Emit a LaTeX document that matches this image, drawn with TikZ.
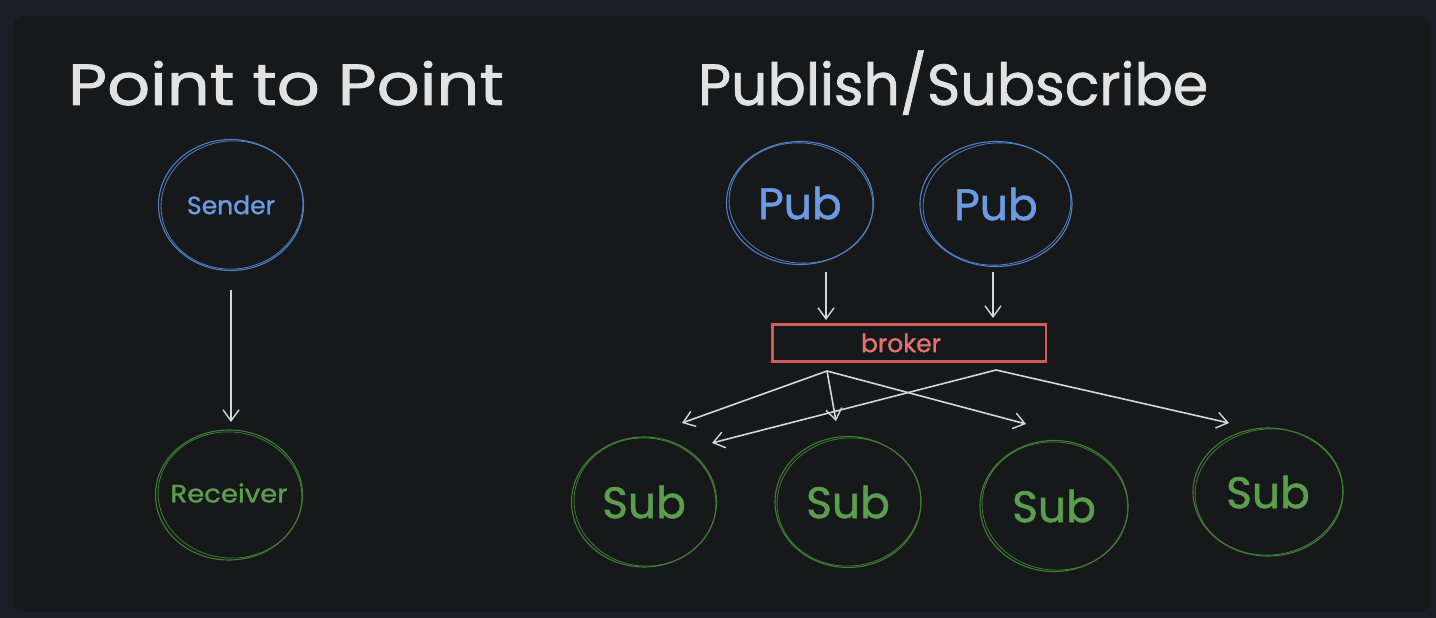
\documentclass[tikz,border=0pt]{standalone}
\usepackage{fontspec}
\setmainfont{Poppins}[FakeBold=1.2]
\usetikzlibrary{shapes.geometric,arrows.meta}
\definecolor{outerbg}{HTML}{1B1E27}
\definecolor{panelbg}{HTML}{17181A}
\definecolor{bstroke}{HTML}{4F7FC4}
\definecolor{btext}{HTML}{6C9BE3}
\definecolor{gstroke}{HTML}{3E7D36}
\definecolor{gtext}{HTML}{5B9E4D}
\definecolor{rstroke}{HTML}{D05C5C}
\definecolor{rtext}{HTML}{E27272}
\definecolor{wline}{HTML}{D6D6D6}
\definecolor{ttext}{HTML}{E2E2E2}
\tikzset{
  bubble/.style={ellipse, draw, line width=1.1pt, inner sep=0pt},
  bluebubble/.style={bubble, draw=bstroke, text=btext},
  greenbubble/.style={bubble, draw=gstroke, text=gtext},
  title/.style={text=ttext, font=\fontsize{58}{60}\selectfont, anchor=base west, inner sep=0pt},
  smalllbl/.style={font=\fontsize{25}{28}\selectfont},
  biglbl/.style={font=\fontsize{44}{48}\selectfont},
  arr/.style={draw=wline, line width=1.6pt, -{Straight Barb[length=11pt,width=16pt,line width=1.4pt]}},
}
\begin{document}
\begin{tikzpicture}[x=1pt,y=-1pt]
\useasboundingbox (0,0) rectangle (1436,618);
\fill[outerbg] (0,0) rectangle (1436,618);
\fill[panelbg, rounded corners=11pt] (13,16) rectangle (1430,612);

% titles
\node[title] (t1) at (68,105) {\scalebox{1.16}[1]{Point to Point}};
\node[title] (t2) at (698,105) {\scalebox{0.98}[1]{Publish/Subscribe}};

% point to point
\node[bluebubble, smalllbl, minimum width=145pt, minimum height=131pt] (sender) at (231,205) {Sender};
\node[greenbubble, minimum width=147pt, minimum height=130pt] (receiver) at (229,495) {};
\node[text=gtext, smalllbl, inner sep=0pt] (receiverlbl) at ([yshift=2pt]receiver.center) {\scalebox{1.1}[1]{Receiver}};

% pub/sub
\node[bluebubble, biglbl, minimum width=147pt, minimum height=123pt] (pub1) at (800,203) {Pub};
\node[bluebubble, biglbl, minimum width=152pt, minimum height=125pt] (pub2) at (996,204) {Pub};
\node[draw=rstroke, line width=1.1pt, minimum width=274pt, minimum height=38pt, inner sep=0pt] (broker) at (909,343) {};
\node[text=rtext, smalllbl, inner sep=0pt] (brokerlbl) at ([xshift=-8pt]broker.center) {broker};

\node[greenbubble, biglbl, minimum width=145pt, minimum height=130pt] (sub1) at (644,502) {Sub};
\node[greenbubble, biglbl, minimum width=146pt, minimum height=131pt] (sub2) at (848,502) {Sub};
\node[greenbubble, biglbl, minimum width=148pt, minimum height=131pt] (sub3) at (1054,506) {Sub};
\node[greenbubble, biglbl, minimum width=150pt, minimum height=128pt] (sub4) at (1268,492) {Sub};

% sketchy second strokes
\foreach \n/\c/\rx/\ry/\r in {sender/bstroke/71/64/6, receiver/gstroke/72/63/-6, pub1/bstroke/72/60/-6, pub2/bstroke/74/61/6,
  sub1/gstroke/71/64/-6, sub2/gstroke/72/64/6, sub3/gstroke/73/64/-6, sub4/gstroke/74/63/6}
  \draw[\c, line width=0.8pt] ([xshift=1pt]\n.center) ellipse[x radius=\rx, y radius=\ry, rotate=\r];
\draw[rstroke, line width=0.7pt] ([xshift=2pt,yshift=-2pt]broker.north west) rectangle ([xshift=-1pt,yshift=2pt]broker.south east);

% connector end points
\coordinate (s0) at (231,290);
\coordinate (s1) at (231,422);
\coordinate (p1a) at (826,272);
\coordinate (p1b) at (826,320);
\coordinate (p2a) at (993,272);
\coordinate (p2b) at (993,318);
\coordinate (bl) at (827,371);
\coordinate (br) at (996,370);
\coordinate (e1) at (682,423);
\coordinate (e2) at (836,421);
\coordinate (e3) at (1026,424);
\coordinate (e4) at (712,443);
\coordinate (e5) at (1229,423);

\draw[arr] (s0) -- (s1);
\draw[arr] (p1a) -- (p1b);
\draw[arr] (p2a) -- (p2b);
\draw[arr] (bl) -- (e1);
\draw[arr] (bl) -- (e2);
\draw[arr] (bl) -- (e3);
\draw[arr] (br) -- (e4);
\draw[arr] (br) -- (e5);
\end{tikzpicture}
\end{document}
